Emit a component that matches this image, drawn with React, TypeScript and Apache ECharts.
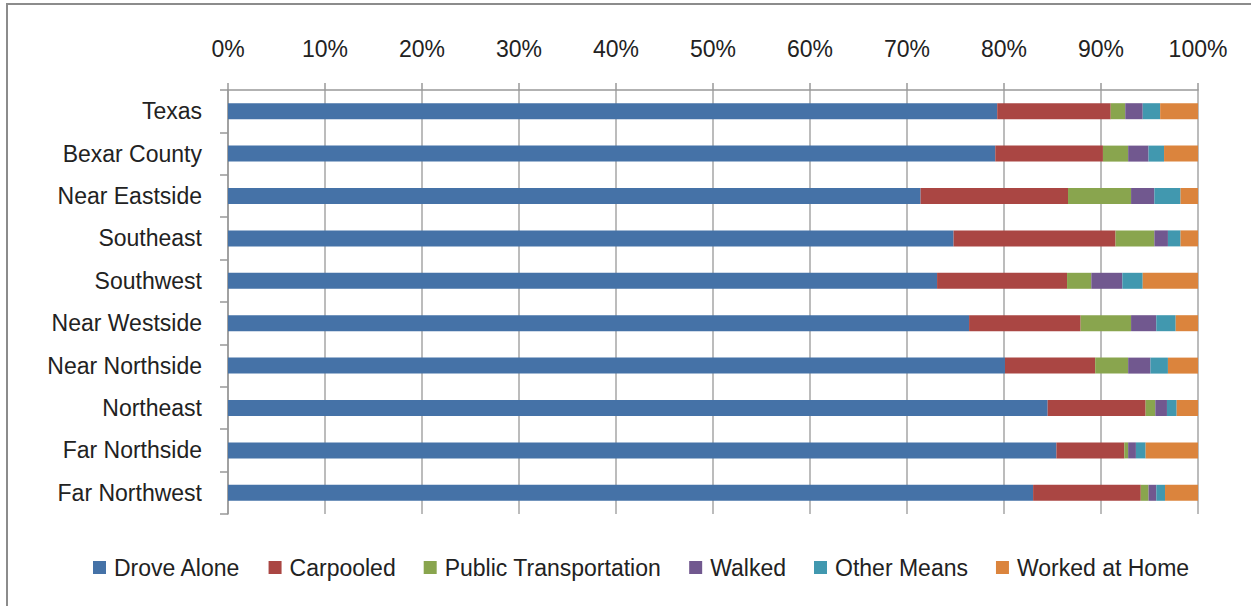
import React, { useEffect, useRef } from "react";
import * as echarts from "echarts";

const categories = [
  "Texas",
  "Bexar County",
  "Near Eastside",
  "Southeast",
  "Southwest",
  "Near Westside",
  "Near Northside",
  "Northeast",
  "Far Northside",
  "Far Northwest",
];

const seriesNames = [
  "Drove Alone",
  "Carpooled",
  "Public Transportation",
  "Walked",
  "Other Means",
  "Worked at Home",
];

const droveAlone = [79.3, 79.1, 71.4, 74.8, 73.1, 76.4, 80.1, 84.5, 85.4, 83.0];
const carpooled = [11.7, 11.1, 15.2, 16.7, 13.4, 11.5, 9.3, 10.1, 7.0, 11.1];
const publicTransportation = [1.5, 2.6, 6.5, 4.0, 2.5, 5.2, 3.4, 1.0, 0.4, 0.8];
const walked = [1.8, 2.1, 2.4, 1.4, 3.2, 2.6, 2.3, 1.2, 0.8, 0.8];
const otherMeans = [1.8, 1.6, 2.7, 1.3, 2.1, 2.0, 1.8, 1.0, 1.0, 0.9];
const workedAtHome = [3.9, 3.5, 1.8, 1.8, 5.7, 2.3, 3.1, 2.2, 5.4, 3.4];

const colors = ["#4572A7", "#AA4643", "#89A54E", "#71588F", "#4198AF", "#DB843D"];

const FONT = "Liberation Sans";

export default function App() {
  const ref = useRef<HTMLDivElement>(null);

  useEffect(() => {
    if (!ref.current) return;
    const chart = echarts.init(ref.current, null, { renderer: "svg" });
    const values = [droveAlone, carpooled, publicTransportation, walked, otherMeans, workedAtHome];
    chart.setOption({
      animation: false,
      backgroundColor: "#ffffff",
      color: colors,
      graphic: [
        {
          type: "rect",
          shape: { x: 7, y: 4, width: 1400, height: 800 },
          style: { fill: "none", stroke: "#8c8c8c", lineWidth: 2 },
          silent: true,
        },
      ],
      grid: { left: 228, right: 53, top: 90, bottom: 92, containLabel: false },
      legend: {
        data: seriesNames,
        left: 88,
        top: 551,
        icon: "rect",
        itemWidth: 13,
        itemHeight: 13,
        itemGap: 28,
        textStyle: { fontFamily: FONT, fontSize: 23, color: "#222", padding: [0, 0, 0, 3] },
      },
      xAxis: {
        type: "value",
        position: "top",
        min: 0,
        max: 100,
        interval: 10,
        axisLine: { show: true, lineStyle: { color: "#999", width: 1.5 } },
        axisTick: { show: true, length: 7, lineStyle: { color: "#999", width: 1.5 } },
        splitLine: { show: true, lineStyle: { color: "#a6a6a6", width: 1.5 } },
        axisLabel: {
          formatter: "{value}%",
          fontFamily: FONT,
          fontSize: 23,
          color: "#222",
          margin: 30,
        },
      },
      yAxis: {
        type: "category",
        inverse: true,
        data: categories,
        axisLine: { show: true, lineStyle: { color: "#999", width: 1.5 } },
        axisTick: { show: true, length: 8, lineStyle: { color: "#999", width: 1.5 } },
        axisLabel: { fontFamily: FONT, fontSize: 23, color: "#222", margin: 26 },
      },
      series: seriesNames.map((name, i) => ({
        name,
        type: "bar",
        stack: "total",
        barWidth: 16,
        data: values[i],
      })),
    });
    return () => chart.dispose();
  }, []);

  return (
    <div
      ref={ref}
      style={{ position: "fixed", left: 0, top: 0, width: 1251, height: 606 }}
    />
  );
}
